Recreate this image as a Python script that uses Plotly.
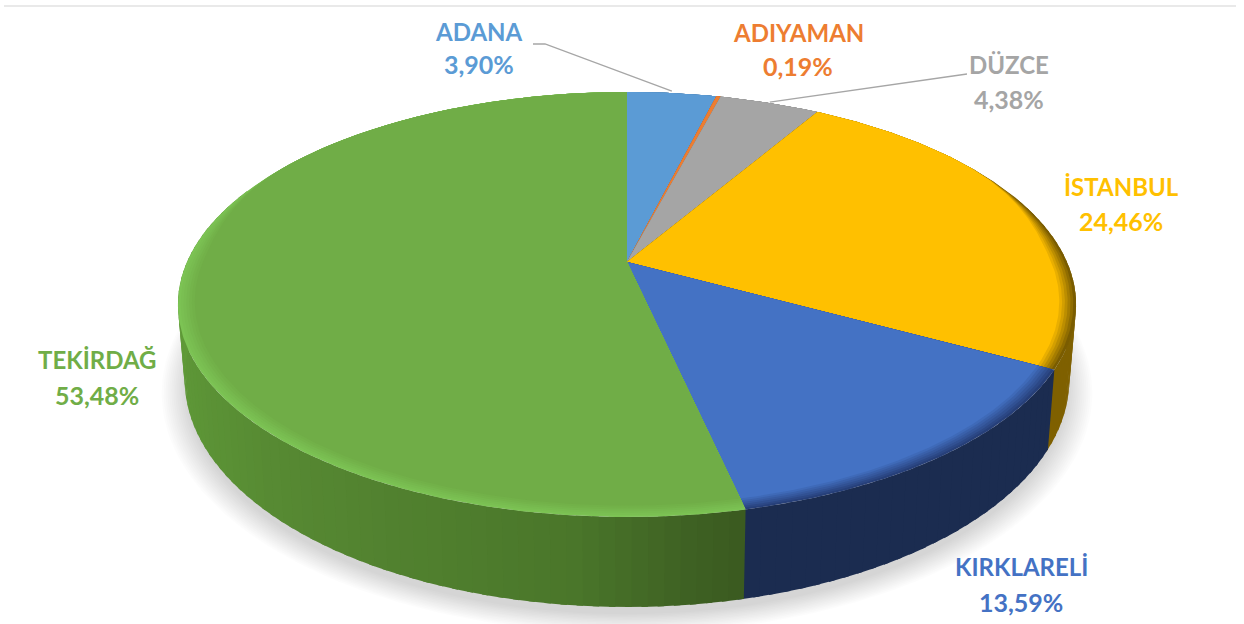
import numpy as np
import plotly.graph_objects as go

# ---- data ----
provinces = ["ADANA", "ADIYAMAN", "DÜZCE", "İSTANBUL", "KIRKLARELİ", "TEKİRDAĞ"]
shares = [3.90, 0.19, 4.38, 24.46, 13.59, 53.48]

# ---- styles ----
colors = ["#5b9bd5", "#ed7d31", "#a5a5a5", "#ffc000", "#4472c4", "#70ad47"]
rim_colors = ["#3f6d98", "#a85820", "#757575", "#7a5c00", "#27407a", "#7cc354"]
wall_stops = [
    [(-1, "#3c6a96"), (1, "#3c6a96")],
    [(-1, "#a0521c"), (1, "#a0521c")],
    [(-1, "#6e6e6e"), (1, "#6e6e6e")],
    [(-1, "#7f6000"), (1, "#7f6000")],
    [(-1, "#1b2c50"), (1, "#1b2c50")],
    [(-1, "#5f9a38"), (-0.7, "#578a33"), (-0.1, "#4a762a"), (0.1, "#3f6223"), (0.27, "#38561e"), (1, "#38561e")],
]
label_pos = [(479, 31, 64), (798, 32, 66), (1009, 64, 99), (1121, 186, 221), (1021, 566, 602), (97, 359, 395)]
FONT = "Lato"
NAME_SIZE = 24
VALUE_SIZE = 25

# ---- projection of the disc onto the page ----
CX, CY, A, B, K, DEPTH, TAPER = 627, 262, 440, 204, 0.2, 72, 0.015
BEVEL = 0.036


def project(theta, r=1.0, z=0.0, dy=0.0):
    u, v = r * np.sin(theta), r * np.cos(theta)
    w = 1 + K * v
    return CX + A * (1 - TAPER * z) * u / w, CY + (-B * v + DEPTH * z) / w + dy


def hex2rgb(h):
    return np.array([int(h[i:i + 2], 16) for i in (1, 3, 5)], float)


def mix(c1, c2, t):
    c = hex2rgb(c1) * (1 - t) + hex2rgb(c2) * t
    return "rgb(%d,%d,%d)" % tuple(np.round(c))


def wall_color(stops, u):
    for (u0, c0), (u1, c1) in zip(stops, stops[1:]):
        if u <= u1:
            return mix(c0, c1, (u - u0) / (u1 - u0))
    return stops[-1][1]


def bevel_width(theta):
    s = np.clip((0.55 - np.cos(theta)) / 0.55, 0, 1)
    return BEVEL * s * s * (3 - 2 * s)


fig = go.Figure()


def poly(xs, ys, color, name=None):
    fig.add_trace(go.Scatter(
        x=list(xs), y=list(ys), mode="lines", fill="toself", fillcolor=color,
        line=dict(color=color, width=0), showlegend=False,
        hoverinfo="text" if name else "skip", text=name,
    ))


# soft shadow below the disc
circle = np.linspace(0, 2 * np.pi, 241)
for i in range(14):
    sx, sy = project(circle, 1.05 - i * 0.0042, 1.0, 9)
    poly(sx, sy, "rgba(0,0,0,0.012)")

# slice angles come straight from the values
edges = np.concatenate([[0], np.cumsum(shares)]) / sum(shares) * 2 * np.pi

# side wall: each strip overlaps into the next one so no seams show
for n in range(len(shares)):
    t0, t1 = edges[n], edges[n + 1]
    steps = max(2, int((t1 - t0) / 0.03))
    grid = np.linspace(t0, t1, steps + 1)
    for a0, a1 in zip(grid, grid[1:]):
        mid = (a0 + a1) / 2
        if np.cos(mid) > 0.35:
            continue
        a2 = min(a1 + 0.012, 2 * np.pi)
        xt, yt = project(np.array([a0, a2]))
        xb, yb = project(np.array([a2, a0]), 1.0, 1.0)
        poly(np.r_[xt, xb], np.r_[yt, yb], wall_color(wall_stops[n], float(np.sin(mid))))

# top face with a bevel that only shows towards the viewer
levels = 7
for n in range(len(shares)):
    t0, t1 = edges[n], edges[n + 1]
    arc = np.linspace(t0, t1, max(3, int((t1 - t0) / 0.01)))
    label = f"{provinces[n]}: {shares[n]:.2f}%".replace(".", ",")
    for j in range(levels):
        frac = j / (levels - 1)
        r = 1 - frac * bevel_width(arc)
        col = mix(rim_colors[n], colors[n], frac)
        xs, ys = project(arc, r)
        poly(np.r_[CX, xs, CX], np.r_[CY, ys, CY], col, name=label)

# leader lines
LEADER = "#a6a6a6"
ax0, ay0 = project(np.array([(edges[0] + edges[1]) / 2]), 1.0)
fig.add_trace(go.Scatter(x=[533, 545, float(ax0[0])], y=[44, 44, float(ay0[0]) - 2], mode="lines",
                         line=dict(color=LEADER, width=1.3), showlegend=False, hoverinfo="skip"))
dx0, dy0 = project(np.array([(edges[2] + edges[3]) / 2]), 1.0)
fig.add_trace(go.Scatter(x=[float(dx0[0]), 955, 967], y=[float(dy0[0]) - 1, 75, 74], mode="lines",
                         line=dict(color=LEADER, width=1.3), showlegend=False, hoverinfo="skip"))

# labels
anns = []
for name, val, col, (lx, y1, y2) in zip(provinces, shares, colors, label_pos):
    for text, ly, size in ((name, y1, NAME_SIZE), (f"{val:.2f}".replace(".", ",") + "%", y2, VALUE_SIZE)):
        anns.append(dict(x=lx, y=ly, text=text, showarrow=False, xref="x", yref="y",
                         xanchor="center", yanchor="middle",
                         font=dict(family=FONT, size=size, color=col, weight=700)))

shapes = [dict(type="line", xref="x", yref="y", x0=4, x1=1236, y0=6, y1=6,
               line=dict(color="#e2e2e2", width=1.5))]

fig.update_layout(
    width=1244, height=624, margin=dict(l=0, r=0, t=0, b=0),
    paper_bgcolor="white", plot_bgcolor="white", showlegend=False,
    xaxis=dict(range=[0, 1244], visible=False, fixedrange=True),
    yaxis=dict(range=[624, 0], visible=False, fixedrange=True),
    annotations=anns, shapes=shapes,
)
fig.write_html("out.html", config=dict(displayModeBar=False),
               post_script="document.body.style.margin='0';document.documentElement.style.overflow='hidden';")
